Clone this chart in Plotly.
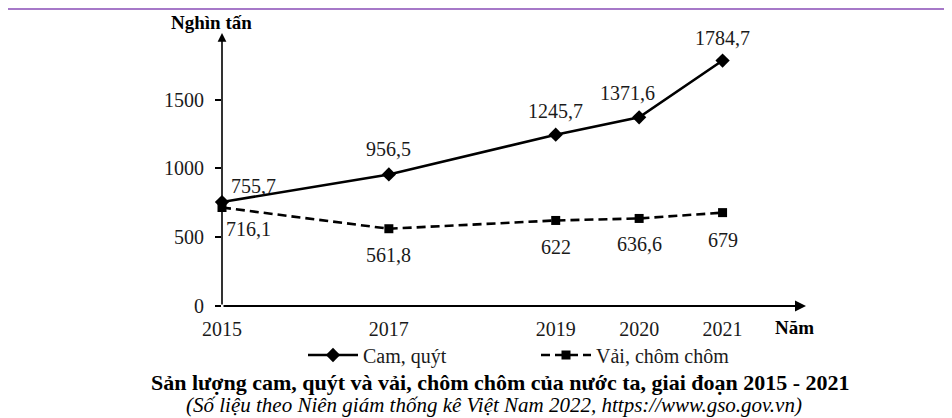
import plotly.graph_objects as go

################## DATA ##################

years = [2015, 2017, 2019, 2020, 2021]
cam_quyt = [755.7, 956.5, 1245.7, 1371.6, 1784.7]
vai_chom_chom = [716.1, 561.8, 622, 636.6, 679]
series_names = ["Cam, quýt", "Vải, chôm chôm"]
y_ticks = [0, 500, 1000, 1500]

title_text = "Sản lượng cam, quýt và vải, chôm chôm của nước ta, giai đoạn 2015 - 2021"
source_text = "(Số liệu theo Niên giám thống kê Việt Nam 2022, https://www.gso.gov.vn)"

################## STYLE ##################

FONT = "Liberation Serif, Times New Roman, serif"
TXT = "#1a1a1a"
OFF = 8                       # browser body margin
W, H = 952 - OFF, 418 - OFF   # figure size
L, R, T, B = 222 - OFF, 146, 33 - OFF, 112
X_RANGE = [2015, 2022]
Y_RANGE = [0, 1985]

# label offsets in pixels (xshift, yshift) per point
cam_shift = [(31, 16), (0, 25), (0, 24), (-12, 24), (0, 23)]
vai_shift = [(26, -21), (0, -26), (0, -27), (0, -26), (0, -27)]


def px(x, y):
    """page pixel (screenshot) -> paper coords"""
    x, y = x - OFF, y - OFF
    pw, ph = W - L - R, H - T - B
    return (x - L) / pw, (H - B - y) / ph


def fmt(v):
    return f"{v:g}".replace(".", ",")


fig = go.Figure()

fig.add_scatter(
    x=years, y=cam_quyt, name=series_names[0], mode="lines+markers",
    line=dict(color="black", width=2.6),
    marker=dict(symbol="diamond", size=11, color="black"),
    cliponaxis=False,
)
fig.add_scatter(
    x=years, y=vai_chom_chom, name=series_names[1], mode="lines+markers",
    line=dict(color="black", width=2.6, dash="9px,5px"),
    marker=dict(symbol="square", size=9, color="black"),
    cliponaxis=False,
)

annotations = []

# data labels
for vals, shifts in ((cam_quyt, cam_shift), (vai_chom_chom, vai_shift)):
    for x, v, (dx, dy) in zip(years, vals, shifts):
        annotations.append(dict(
            x=x, y=v, xref="x", yref="y", text=fmt(v), showarrow=False,
            xshift=dx, yshift=dy, font=dict(family=FONT, size=20, color=TXT),
        ))

# axes drawn as arrows
annotations.append(dict(
    x=X_RANGE[1], y=0, ax=X_RANGE[0], ay=0, xref="x", yref="y", axref="x", ayref="y",
    text="", showarrow=True, arrowhead=2, arrowsize=1.1, arrowwidth=2, arrowcolor="black",
))
annotations.append(dict(
    x=X_RANGE[0], y=Y_RANGE[1], ax=X_RANGE[0], ay=0, xref="x", yref="y", axref="x", ayref="y",
    text="", showarrow=True, arrowhead=2, arrowsize=1.1, arrowwidth=1.6, arrowcolor="black",
))


def page_text(x, y, text, size):
    ax_, ay_ = px(x, y)
    return dict(x=ax_, y=ay_, xref="paper", yref="paper", text=text, showarrow=False,
                xanchor="center", yanchor="middle",
                font=dict(family=FONT, size=size, color="black"))


# axis titles
annotations.append(page_text(211, 23, "<b>Nghìn tấn</b>", 19))
annotations.append(page_text(794, 327, "<b>Năm</b>", 19))

# title + source
annotations.append(page_text(500, 383, f"<b>{title_text}</b>", 22))
annotations.append(page_text(494, 405, f"<i>{source_text}</i>", 21))

lx, ly = px(303, 355)

fig.update_layout(
    width=W, height=H,
    margin=dict(l=L, r=R, t=T, b=B),
    plot_bgcolor="white", paper_bgcolor="white",
    font=dict(family=FONT, size=20, color=TXT),
    xaxis=dict(
        range=X_RANGE, tickvals=years, ticktext=[str(y) for y in years],
        showgrid=False, zeroline=False, showline=False,
        ticks="", ticklabelstandoff=9,
    ),
    yaxis=dict(
        range=Y_RANGE, tickvals=y_ticks,
        showgrid=False, zeroline=False, showline=False,
        ticks="outside", ticklen=6, tickwidth=1.5, tickcolor="black",
        ticklabelstandoff=7,
    ),
    showlegend=True,
    legend=dict(
        orientation="h", x=lx, y=ly, xanchor="left", yanchor="middle",
        font=dict(family=FONT, size=20, color=TXT),
        itemwidth=50, entrywidth=168, entrywidthmode="pixels",
        bgcolor="rgba(0,0,0,0)",
    ),
    annotations=annotations,
    shapes=[dict(
        type="line", xref="paper", yref="paper", x0=-L / (W - L - R), x1=1 + R / (W - L - R),
        yanchor=1, ysizemode="pixel", y0=T - 1, y1=T - 1,
        line=dict(color="#a678c8", width=2),
    )],
)

fig.write_html("out.html")
